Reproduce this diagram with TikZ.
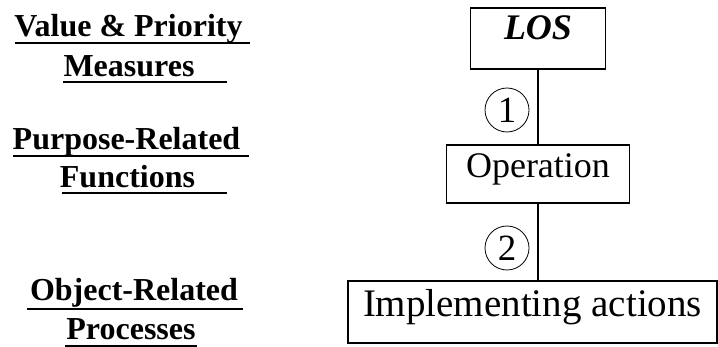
\documentclass[tikz,border=0pt]{standalone}
\usepackage{fontspec}
\setmainfont{Liberation Serif}
\begin{document}
\begin{tikzpicture}[x=1pt,y=-1pt,
  levelbox/.style={draw,line width=1.2pt,inner xsep=0pt,inner ysep=0pt,anchor=base,
    font=\fontsize{36}{40}\selectfont},
  stepnum/.style={draw,circle,line width=0.8pt,minimum size=44pt,inner sep=0pt,
    font=\fontsize{37}{37}\selectfont},
  levtext/.style={anchor=base,inner sep=0pt,font=\fontsize{32}{36}\selectfont\bfseries},
  uline/.style={line width=2.2pt}]
\useasboundingbox (0,0) rectangle (718,347);
% abstraction levels on the left
\node[levtext] (vp) at (128.5,37) {Value \& Priority};
\node[levtext] (me) at (129,77) {Measures};
\node[levtext] (pr) at (126.5,150) {Purpose-Related};
\node[levtext] (fu) at (127.5,188) {Functions};
\node[levtext] (ob) at (134,301) {Object-Related};
\node[levtext] (pc) at (131,340) {Processes};
\draw[uline] (15,43) -- (250,43);
\draw[uline] (63,82) -- (227,82);
\draw[uline] (13,156) -- (249,156);
\draw[uline] (62,193) -- (227,193);
\draw[uline] (27,309) -- (243,309);
\draw[uline] (65,346) -- (197,346);
% boxes
\node[levelbox,minimum width=135pt,text height=32pt,text depth=29pt] (los) at (538,40) {\textbf{\textit{LOS}}};
\node[levelbox,minimum width=183pt,text height=33pt,text depth=25pt] (op) at (538,178) {Operation};
\node[levelbox,minimum width=369pt,text height=36pt,text depth=26pt,
  font=\fontsize{39}{43}\selectfont] (impl) at (532.5,317) {Implementing actions};
\draw[line width=1.2pt] (los.south) -- (los.south |- op.north);
\draw[line width=1.2pt] (op.south) -- (op.south |- impl.north);
% numbered steps
\node[stepnum] (s1) at (507,110) {1};
\node[stepnum] (s2) at (507,248) {2};
\end{tikzpicture}
\end{document}
